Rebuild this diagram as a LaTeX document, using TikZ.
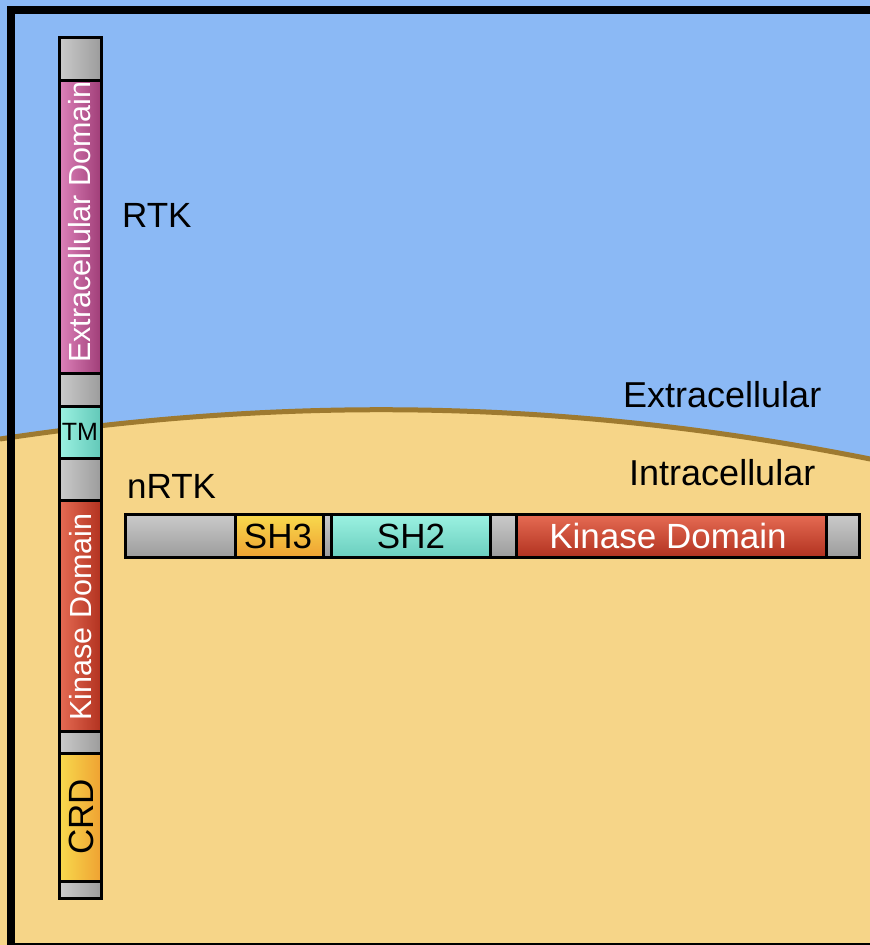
\documentclass[tikz,border=0pt]{standalone}
\usepackage{fontspec}
\setmainfont{Liberation Sans}
\definecolor{sky}{HTML}{8BB9F5}
\definecolor{cyto}{HTML}{F6D588}
\definecolor{membr}{HTML}{9E7A30}
\definecolor{grayL}{HTML}{CBCBCB}
\definecolor{grayD}{HTML}{9C9C9C}
\definecolor{pinkL}{HTML}{DD82BA}
\definecolor{pinkD}{HTML}{A03E78}
\definecolor{redL}{HTML}{E66C54}
\definecolor{redD}{HTML}{B23220}
\definecolor{tealL}{HTML}{9CF2E2}
\definecolor{tealD}{HTML}{62C8B8}
\definecolor{ylwL}{HTML}{F8DA4E}
\definecolor{ylwD}{HTML}{EFA232}
\tikzset{
  seg/.style={draw=black, line width=3pt},
  % vertical receptor: shading runs left to right
  vgray/.style={seg, left color=grayL, right color=grayD},
  vpink/.style={seg, left color=pinkL, right color=pinkD},
  vred/.style={seg, left color=redL, right color=redD},
  vteal/.style={seg, left color=tealL, right color=tealD},
  vylw/.style={seg, left color=ylwL, right color=ylwD},
  % horizontal kinase: shading runs top to bottom
  hgray/.style={seg, top color=grayL, bottom color=grayD},
  hred/.style={seg, top color=redL, bottom color=redD},
  hteal/.style={seg, top color=tealL, bottom color=tealD!85!tealL},
  hylw/.style={seg, top color=ylwL, bottom color=ylwD},
  lbl/.style={inner sep=0pt, font=\fontsize{35}{40}\selectfont, text=black},
  vtxt/.style={inner sep=0pt, rotate=90, font=\fontsize{30.5}{34}\selectfont},
  htxt/.style={inner sep=0pt, font=\fontsize{35}{40}\selectfont},
}
\begin{document}
\begin{tikzpicture}[x=1pt,y=-1pt]
\useasboundingbox (0,0) rectangle (870,945);
\begin{scope}
\clip (0,0) rectangle (870,945);
\fill[white] (0,0) rectangle (870,945);
% cytoplasm and extracellular space
\fill[cyto] (0,0) rectangle (870,945);
\fill[sky] (0,0) -- (0,439) .. controls (299,394) and (585,400) .. (890,463) -- (890,0) -- cycle;
\draw[membr, line width=5pt] (0,439) .. controls (299,394) and (585,400) .. (890,463);
% outer frame, running past the right edge
\draw[black, line width=8pt] (950,10) -- (11,10) -- (11,947) -- (950,947);
\end{scope}

% RTK, spanning the membrane
\path[vgray] (59,37) rectangle (101,80);
\path[vpink] (59,80) rectangle (101,373);
\path[vgray] (59,373) rectangle (101,406);
\path[vteal] (59,406) rectangle (101,458);
\path[vgray] (59,458) rectangle (101,500);
\path[vred]  (59,500) rectangle (101,731);
\path[vgray] (59,731) rectangle (101,753);
\path[vylw]  (59,753) rectangle (101,881);
\path[vgray] (59,881) rectangle (101,898);
\node[vtxt, text=white] (ecd) at (80,222) {Extracellular Domain};
\node[inner sep=0pt, font=\fontsize{25}{28}\selectfont] (tm) at (80,432) {TM};
\node[vtxt, text=white] (kdv) at (81,617) {Kinase Domain};
\node[vtxt, font=\fontsize{35}{40}\selectfont, text=black] (crd) at (81,817) {CRD};

% nRTK in the cytoplasm
\path[hgray] (125,514) rectangle (235,557);
\path[hylw]  (235,514) rectangle (323,557);
\path[hgray] (323,514) rectangle (331,557);
\path[hteal] (331,514) rectangle (490,557);
\path[hgray] (490,514) rectangle (516,557);
\path[hred]  (516,514) rectangle (826,557);
\path[hgray] (826,514) rectangle (859,557);
\node[htxt] (sh3) at (278,536) {SH3};
\node[htxt] (sh2) at (411,536) {SH2};
\node[htxt, text=white] (kdh) at (668,536) {Kinase Domain};

% labels
\node[lbl, anchor=base west] (rtk) at (122,227) {RTK};
\node[lbl, anchor=base west] (nrtk) at (127,498) {nRTK};
\node[lbl, anchor=base west, font=\fontsize{36}{40}\selectfont] (ext) at (623,407) {Extracellular};
\node[lbl, anchor=base west, font=\fontsize{36}{40}\selectfont] (int) at (629,485) {Intracellular};
\end{tikzpicture}
\end{document}
